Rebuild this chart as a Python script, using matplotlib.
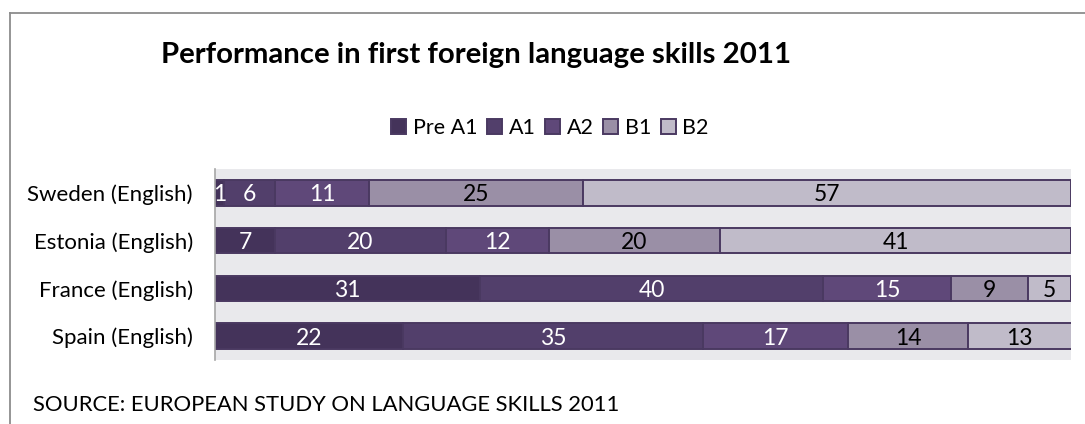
import matplotlib
matplotlib.use("Agg")
import matplotlib.pyplot as plt
from matplotlib.lines import Line2D
import numpy as np

# Share of pupils (%) at each CEFR level, first foreign language (English)
countries = ["Sweden (English)", "Estonia (English)", "France (English)", "Spain (English)"]
levels = ["Pre A1", "A1", "A2", "B1", "B2"]
pre_a1 = [1, 7, 31, 22]
a1 = [6, 20, 40, 35]
a2 = [11, 12, 15, 17]
b1 = [25, 20, 9, 14]
b2 = [57, 41, 5, 13]

series = [pre_a1, a1, a2, b1, b2]
fills = ["#44335a", "#523f6b", "#5f4879", "#9a8fa6", "#c0bbc9"]
label_colors = ["white", "white", "white", "black", "black"]
edge = "#4a3961"

plt.rcParams["font.family"] = ["Lato", "DejaVu Sans"]

fig = plt.figure(figsize=(10.85, 4.24), dpi=100)
fig.patch.set_facecolor("white")

ax = fig.add_axes([215 / 1085, 1 - 360 / 424, (1071 - 215) / 1085, (360 - 169) / 424])
ax.set_facecolor("#e9e9ec")

y = np.arange(len(countries))
left = np.zeros(len(countries))
bar_h = 0.53
for vals, fc, tc, name in zip(series, fills, label_colors, levels):
    vals = np.array(vals, dtype=float)
    ax.barh(y, vals, left=left, height=bar_h, color=fc, edgecolor=edge,
            linewidth=1.4, label=name, zorder=2)
    for yi, l, v in zip(y, left, vals):
        cx = (l + min(l + v, 100)) / 2
        ax.text(cx, yi, f"{int(v)}", ha="center", va="center_baseline",
                color=tc, fontsize=16.5, zorder=3, clip_on=False)
    left = left + vals

ax.set_xlim(0, 100)
ax.set_ylim(len(countries) - 0.5, -0.5)
ax.set_yticks(y)
ax.set_yticklabels(countries, fontsize=16)
ax.tick_params(axis="y", length=0, pad=16)
ax.set_xticks([])
for s in ["top", "right", "bottom"]:
    ax.spines[s].set_visible(False)
ax.spines["left"].set_color("#a6a6a6")
ax.spines["left"].set_linewidth(1.2)

fig.text(476 / 1085, 1 - 55 / 424, "Performance in first foreign language skills 2011",
         ha="center", va="center", fontsize=21.2, fontweight="bold", color="black")

handles, labels = ax.get_legend_handles_labels()
fig.legend(handles, labels, loc="center", bbox_to_anchor=(550 / 1085, 1 - 128 / 424),
           ncol=5, frameon=False, fontsize=15.5, handlelength=0.7, handleheight=0.7,
           handletextpad=0.3, columnspacing=0.45, borderaxespad=0)

fig.text(33 / 1085, 1 - 405 / 424, "SOURCE: EUROPEAN STUDY ON LANGUAGE SKILLS 2011",
         ha="left", va="center", fontsize=15.8, color="black")

# outer frame of the chart area
fig.add_artist(Line2D([10 / 1085, 10 / 1085], [0, 1 - 13 / 424], transform=fig.transFigure,
                      color="#8c8c8c", linewidth=1.3))
fig.add_artist(Line2D([10 / 1085, 1], [1 - 13 / 424, 1 - 13 / 424], transform=fig.transFigure,
                      color="#8c8c8c", linewidth=1.3))

fig.savefig("out.png", dpi=100)
